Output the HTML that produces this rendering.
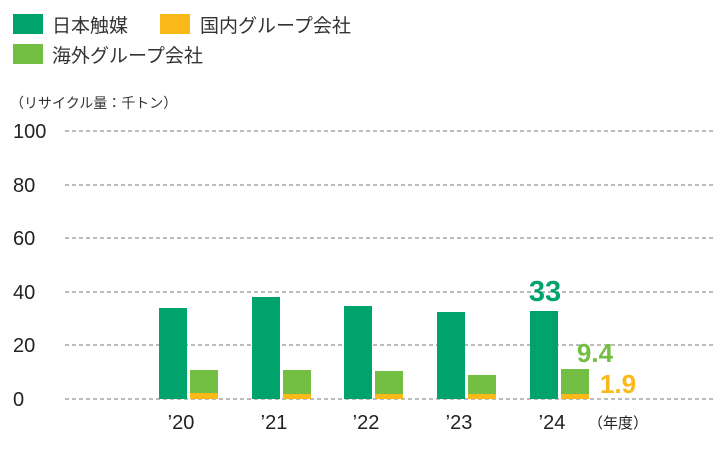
<!DOCTYPE html>
<html><head><meta charset="utf-8"><style>
body{margin:0;background:#fff}
svg text{font-family:"Liberation Sans","Noto Sans CJK JP",sans-serif}
</style></head><body>
<svg width="724" height="448" xmlns="http://www.w3.org/2000/svg">
<rect x="13" y="14" width="30" height="20" fill="#00a36b"/>
<text x="52" y="32" font-size="19" fill="#333">日本触媒</text>
<rect x="160" y="14" width="30" height="20" fill="#fbb919"/>
<text x="200" y="32" font-size="19" fill="#333">国内グループ会社</text>
<rect x="13" y="44" width="30" height="20" fill="#72bf44"/>
<text x="52" y="62" font-size="19" fill="#333">海外グループ会社</text>
<text x="10" y="108" font-size="14" fill="#333">（リサイクル量：千トン）</text>
<g stroke="#777" stroke-dasharray="4,3" stroke-width="1">
<line x1="65" y1="131" x2="715" y2="131"/><line x1="65" y1="185" x2="715" y2="185"/>
<line x1="65" y1="238" x2="715" y2="238"/><line x1="65" y1="292" x2="715" y2="292"/>
<line x1="65" y1="345" x2="715" y2="345"/><line x1="65" y1="399" x2="715" y2="399"/>
</g>
<g font-size="20" fill="#222">
<text x="13" y="138">100</text><text x="13" y="192">80</text><text x="13" y="245">60</text>
<text x="13" y="299">40</text><text x="13" y="352">20</text><text x="13" y="406">0</text>
</g>
<g fill="#00a36b">
<rect x="159" y="308" width="28" height="91"/>
<rect x="252" y="297" width="28" height="102"/>
<rect x="344" y="306" width="28" height="93"/>
<rect x="437" y="312" width="28" height="87"/>
<rect x="530" y="311" width="28" height="88"/>
</g>
<g fill="#72bf44">
<rect x="190" y="370" width="28" height="29"/>
<rect x="283" y="370" width="28" height="29"/>
<rect x="375" y="371" width="28" height="28"/>
<rect x="468" y="375" width="28" height="24"/>
<rect x="561" y="369" width="28" height="30"/>
</g>
<g fill="#fbb919">
<rect x="190" y="393" width="28" height="6"/>
<rect x="283" y="394" width="28" height="5"/>
<rect x="375" y="394" width="28" height="5"/>
<rect x="468" y="394" width="28" height="5"/>
<rect x="561" y="394" width="28" height="5"/>
</g>
<g font-size="20" fill="#222" text-anchor="middle">
<text x="181" y="429">’20</text><text x="274" y="429">’21</text><text x="366" y="429">’22</text>
<text x="459" y="429">’23</text><text x="552" y="429">’24</text>
</g>
<text x="588" y="428" font-size="15" fill="#222">（年度）</text>
<text x="545" y="301" font-size="29" font-weight="bold" fill="#00a36b" text-anchor="middle">33</text>
<text x="595" y="362" font-size="26" font-weight="bold" fill="#72bf44" text-anchor="middle">9.4</text>
<text x="618" y="393" font-size="26" font-weight="bold" fill="#fbb919" text-anchor="middle">1.9</text>
</svg>
</body></html>
